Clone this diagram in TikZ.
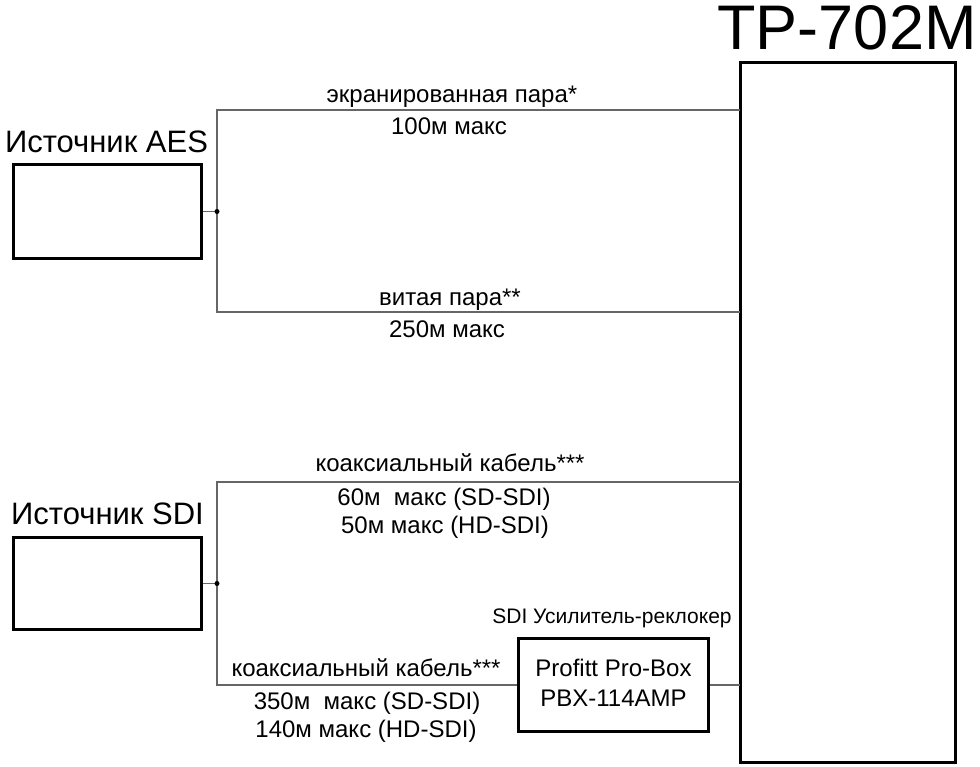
\documentclass[tikz,border=0pt]{standalone}
\usepackage{fontspec}
\setmainfont{Liberation Sans}
\begin{document}
\begin{tikzpicture}[x=1pt,y=-1pt,
  devbox/.style={draw=black,line width=3pt,inner sep=0pt,rectangle},
  wire/.style={draw=black!60,line width=1.2pt},
  lbl/.style={font=\fontsize{24}{29}\selectfont,inner sep=0pt,anchor=base},
  small/.style={font=\fontsize{21}{25}\selectfont,inner sep=0pt,anchor=base},
  title/.style={font=\fontsize{31}{36}\selectfont,inner sep=0pt,anchor=base},
  big/.style={font=\fontsize{63}{70}\selectfont,inner sep=0pt,anchor=base},
  dot/.style={circle,fill=black,inner sep=0pt,minimum size=5pt}]
\useasboundingbox (0,0) rectangle (980,766);
% boxes
\node[devbox,minimum width=188pt,minimum height=94pt] (aes) at (107.5,211.5) {};
\node[devbox,minimum width=188pt,minimum height=92pt] (sdi) at (107.5,583.5) {};
\node[devbox,minimum width=190pt,minimum height=93pt] (amp) at (613.5,685) {};
\node[devbox,minimum width=215pt,minimum height=700pt] (tp) at (848,412.5) {};
% titles
\node[title] (taes) at (106.5,152) {Источник AES};
\node[title] (tsdi) at (107.5,524) {Источник SDI};
\node[big] (ttp) at (847,49) {TP-702M};
\node[small] (tamp) at (612,623) {SDI Усилитель-реклокер};
\node[lbl] (amp1) at (613.5,676) {Profitt Pro-Box};
\node[lbl] (amp2) at (613.5,706) {PBX-114AMP};
% junctions and wire ends
\coordinate (j1) at (217,211.5);
\coordinate (j2) at (217,583.5);
\coordinate (a1) at (740,110);
\coordinate (a2) at (740,312);
\coordinate (s1) at (740,482);
\coordinate (s2) at (740,685);
% wires
\draw[wire] (aes.east) -- (j1);
\draw[wire] (j1) |- (a1);
\draw[wire] (j1) |- (a2);
\draw[wire] (sdi.east) -- (j2);
\draw[wire] (j2) |- (s1);
\draw[wire] (j2) |- (amp.west);
\draw[wire] (amp.east) -- (s2);
\node[dot] (d1) at (j1) {};
\node[dot] (d2) at (j2) {};
% labels
\node[lbl] (l1) at (452,102) {экранированная пара*};
\node[lbl] (l2) at (449,134) {100м макс};
\node[lbl] (l3) at (450,305) {витая пара**};
\node[lbl] (l4) at (447,337) {250м макс};
\node[lbl] (l5) at (450,471) {коаксиальный кабель***};
\node[lbl] (l6) at (444,505) {60м\ \ макс (SD-SDI)};
\node[lbl] (l7) at (445,533) {50м макс (HD-SDI)};
\node[lbl] (l8) at (366,676) {коаксиальный кабель***};
\node[lbl] (l9) at (367,709) {350м\ \ макс (SD-SDI)};
\node[lbl] (l10) at (366,737) {140м макс (HD-SDI)};
\end{tikzpicture}
\end{document}
